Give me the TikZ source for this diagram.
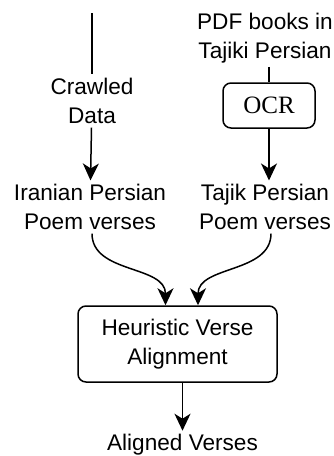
\documentclass[tikz,border=0pt]{standalone}
\usepackage{fontspec}
\setmainfont{Liberation Sans}
\newfontfamily\ocrfont{Liberation Serif}
\usepackage{tikz}
\usetikzlibrary{arrows.meta,%
                shapes,positioning}

\tikzset{
  lbl/.style={align=center, inner sep=3pt, font=\fontsize{22.6}{29}\selectfont},
  stepbox/.style={draw, rounded corners=8pt, align=center, inner sep=2pt},
  flow/.style={-{Stealth[length=17pt,width=16pt,inset=5pt]}},
}

\begin{document}
\begin{tikzpicture}[x=1pt,y=1pt,line width=1.5pt]
\useasboundingbox (0,0) rectangle (334,-456);
\coordinate (src) at (92,-13);
\node[lbl] (crawled) at (92,-101) {Crawled\\Data};
\node[lbl] (iranian) at (90,-207) {Iranian Persian\\Poem verses};
\node[lbl] (pdf) at (265,-38) {PDF books in\\Tajiki Persian};
\node[stepbox, minimum width=92pt, minimum height=45pt, font=\ocrfont\fontsize{25}{28}\selectfont] (ocr) at (269,-105.5) {OCR};
\node[lbl] (tajik) at (265,-207) {Tajik Persian\\Poem verses};
\node[stepbox, lbl, minimum width=199pt, minimum height=76pt] (hva) at (177.5,-344) {Heuristic Verse\\Alignment};
\node[lbl] (aligned) at (182.5,-445) {Aligned Verses};
\coordinate (out) at ([xshift=5pt]hva.south);
\draw (src) -- (crawled);
\draw[flow] (crawled) -- (iranian);
\draw (pdf.south -| ocr.north) -- (ocr.north);
\draw[flow] (ocr) -- (ocr |- tajik.north);
\draw[flow] (iranian.south -| src) to[out=-90,in=90] ([xshift=-12pt]hva.north);
\draw[flow] ([xshift=6pt]tajik.south) to[out=-90,in=90] ([xshift=20.5pt]hva.north);
\draw[flow] (out) -- (out |- aligned.north);
\end{tikzpicture}
\end{document}
